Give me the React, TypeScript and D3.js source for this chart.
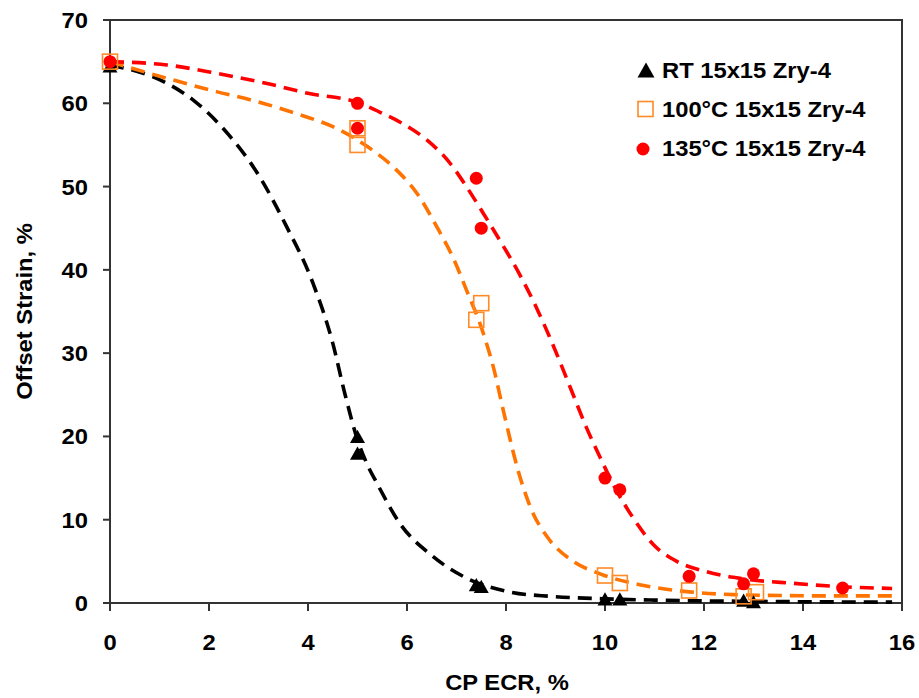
import React from "react";
import * as d3 from "d3";

// ---- data ----
const rtX = [0, 5, 5, 7.4, 7.5, 10, 10.3, 12.8, 13];
const rtY = [64.5, 20, 18, 2.2, 2.0, 0.5, 0.5, 0.35, 0.15];
const c100X = [0, 5, 5, 7.4, 7.5, 10, 10.3, 11.7, 12.8, 13.05];
const c100Y = [65, 57, 55, 34, 36, 3.3, 2.4, 1.5, 0.8, 1.3];
const c135X = [0, 5, 5, 7.4, 7.5, 10, 10.3, 11.7, 12.8, 13, 14.8];
const c135Y = [65, 60, 57, 51, 45, 15, 13.6, 3.2, 2.3, 3.5, 1.8];

const rtFitX = [0, 1.15, 1.7, 2.4, 3.0, 3.55, 4.1, 4.5, 4.75, 5.0, 5.2, 5.4, 5.85, 6.5, 7.2, 8.1, 8.9, 10, 11, 12, 13, 14, 15, 15.8];
const rtFitY = [64.6, 62.4, 60.3, 56.2, 51.4, 45.4, 38.4, 31.2, 25.0, 19.6, 16.6, 14.3, 9.6, 5.7, 3.0, 1.3, 0.8, 0.5, 0.35, 0.25, 0.2, 0.15, 0.12, 0.1];
const c100FitX = [0, 1.15, 2.15, 2.85, 3.85, 4.5, 5.2, 5.75, 6.2, 6.6, 6.95, 7.2, 7.54, 7.75, 7.95, 8.25, 8.5, 8.85, 9.36, 9.9, 10.7, 11.6, 12.6, 13.5, 14.5, 15.8];
const c100FitY = [65, 63.0, 61.4, 60.4, 58.6, 57.2, 54.8, 52.2, 49.2, 45.2, 41.2, 37.6, 32.4, 28.2, 23.0, 15.8, 11.4, 7.8, 5.0, 3.5, 2.2, 1.4, 1.0, 0.9, 0.85, 0.85];
const c135FitX = [0, 1.15, 2.15, 3.15, 4.0, 5.0, 5.5, 5.9, 6.4, 6.87, 7.2, 7.54, 7.88, 8.28, 8.62, 8.92, 9.29, 9.63, 9.9, 10.17, 10.57, 10.98, 11.45, 12.05, 12.73, 13.8, 14.8, 15.8];
const c135FitY = [65, 64.6, 63.6, 62.4, 61.2, 60.1, 58.8, 57.6, 55.6, 52.8, 50.0, 46.8, 43.5, 39.4, 35.4, 31.4, 26.0, 21.0, 17.5, 14.2, 10.2, 7.0, 5.0, 3.76, 2.96, 2.36, 1.95, 1.75];

const xTicks = [0, 2, 4, 6, 8, 10, 12, 14, 16];
const yTicks = [0, 10, 20, 30, 40, 50, 60, 70];
const legendLabels = ["RT 15x15 Zry-4", "100°C 15x15 Zry-4", "135°C 15x15 Zry-4"];
const xTitle = "CP ECR, %";
const yTitle = "Offset Strain, %";

const W = 919, H = 698;
const L = 110, R = 902, T = 20, B = 603;
const FONT = "'Liberation Sans', Arial, sans-serif";
const FS = 22;
const SX = 1.08;

const BLACK = "#000000";
const ORANGE = "#FF7300";
const ORANGE_M = "#FF8A26";
const RED = "#FF0000";

function zip(xs: number[], ys: number[]) {
  return xs.map((x, i) => [x, ys[i]] as [number, number]);
}

function Txt({ x, y, anchor, children, rotate }: any) {
  const tr = rotate
    ? `translate(${x},${y}) rotate(${rotate}) scale(${SX},1)`
    : `translate(${x},${y}) scale(${SX},1)`;
  return (
    <text transform={tr} textAnchor={anchor || "start"} fontFamily={FONT} fontWeight="bold" fontSize={FS} fill="#000">
      {children}
    </text>
  );
}

function Tri({ cx, cy, s }: { cx: number; cy: number; s: number }) {
  const h = s * 0.88;
  return <path d={`M${cx},${cy - h / 2}L${cx + s / 2},${cy + h / 2}L${cx - s / 2},${cy + h / 2}Z`} fill={BLACK} />;
}
function Sq({ cx, cy, s }: { cx: number; cy: number; s: number }) {
  return <rect x={cx - s / 2} y={cy - s / 2} width={s} height={s} fill="none" stroke={ORANGE_M} strokeWidth={1.6} />;
}
function Dot({ cx, cy, r }: { cx: number; cy: number; r: number }) {
  return <circle cx={cx} cy={cy} r={r} fill={RED} />;
}

export default function App() {
  const x = d3.scaleLinear().domain([0, 16]).range([L, R]);
  const y = d3.scaleLinear().domain([0, 70]).range([B, T]);
  const line = d3.line<[number, number]>().x((d) => x(d[0])).y((d) => y(d[1])).curve(d3.curveMonotoneX);

  const dash = "14 8";
  const lw = 3.6;

  return (
    <svg width={W} height={H} style={{ position: "absolute", left: 0, top: 0, background: "#fff" }}>
      <rect width={W} height={H} fill="#fff" />
      {/* frame */}
      <rect x={L} y={T} width={R - L} height={B - T} fill="none" stroke="#333" strokeWidth={2} />
      {/* y ticks */}
      {yTicks.map((t) => (
        <g key={"y" + t}>
          <line x1={L - 7} x2={L} y1={y(t)} y2={y(t)} stroke="#333" strokeWidth={2} />
          <Txt x={88} y={y(t) + 8} anchor="end">{t}</Txt>
        </g>
      ))}
      {xTicks.map((t) => (
        <g key={"x" + t}>
          <line x1={x(t)} x2={x(t)} y1={B} y2={B + 8} stroke="#333" strokeWidth={2} />
          <Txt x={x(t)} y={650} anchor="middle">{t}</Txt>
        </g>
      ))}
      <Txt x={(L + R) / 2 + 1} y={690} anchor="middle">{xTitle}</Txt>
      <Txt x={32} y={(T + B) / 2} anchor="middle" rotate={-90}>{yTitle}</Txt>

      {/* fitted curves */}
      <path d={line(zip(rtFitX, rtFitY)) || ""} fill="none" stroke={BLACK} strokeWidth={lw} strokeDasharray={dash} />
      <path d={line(zip(c100FitX, c100FitY)) || ""} fill="none" stroke={ORANGE} strokeWidth={lw} strokeDasharray={dash} />
      <path d={line(zip(c135FitX, c135FitY)) || ""} fill="none" stroke={RED} strokeWidth={lw} strokeDasharray={dash} />

      {/* markers */}
      {rtX.map((v, i) => <Tri key={"t" + i} cx={x(v)} cy={y(rtY[i])} s={15} />)}
      {c100X.map((v, i) => <Sq key={"s" + i} cx={x(v)} cy={y(c100Y[i])} s={15} />)}
      {c135X.map((v, i) => <Dot key={"c" + i} cx={x(v)} cy={y(c135Y[i])} r={6.5} />)}

      {/* legend */}
      <Tri cx={646} cy={70} s={17} />
      <Sq cx={645.5} cy={109} s={15} />
      <Dot cx={643} cy={149} r={6.5} />
      <Txt x={662} y={78}>{legendLabels[0]}</Txt>
      <Txt x={662} y={117}>{legendLabels[1]}</Txt>
      <Txt x={662} y={156}>{legendLabels[2]}</Txt>
    </svg>
  );
}
